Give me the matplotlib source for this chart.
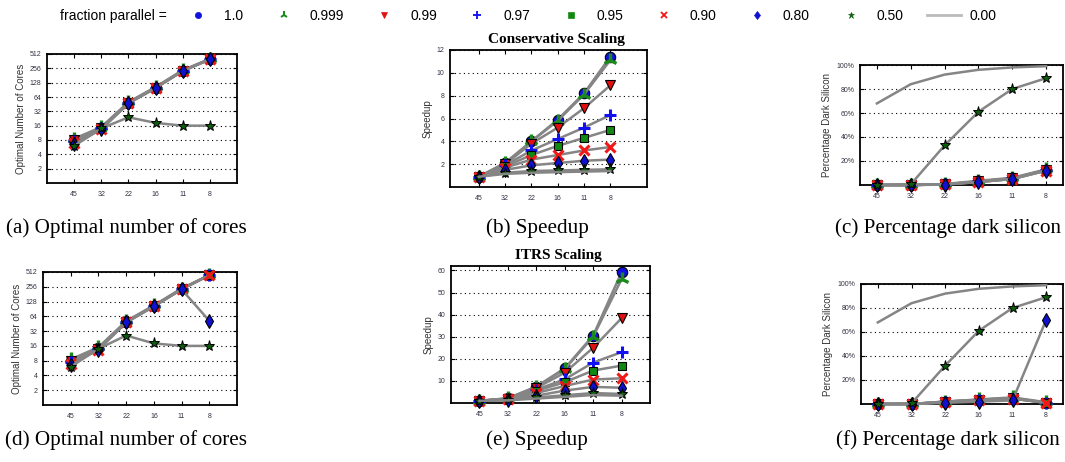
import matplotlib
matplotlib.use('Agg')
import matplotlib.pyplot as plt
from matplotlib.lines import Line2D
from matplotlib.ticker import FixedLocator, FuncFormatter

nodes = ['45', '32', '22', '16', '11', '8']
fractions = ['1.0', '0.999', '0.99', '0.97', '0.95', '0.90', '0.80', '0.50', '0.00']

# one row per fraction parallel, None = series not drawn in that panel
cons_cores = [
    [8, 14.5, 49, 101, 230, 400],
    [8.5, 15, 50, 104, 234, 405],
    [8, 14, 48, 100, 228, 398],
    [7.5, 14, 48, 100, 228, 398],
    [7, 14, 48, 100, 226, 396],
    [7, 13.5, 47, 99, 226, 396],
    [6.5, 13.5, 47, 99, 225, 395],
    [6, 14, 24, 18.3, 16, 16],
    None,
]
itrs_cores = [
    [8, 14.5, 50, 105, 232, 440],
    [8.5, 15, 51, 107, 236, 445],
    [8, 14, 49, 104, 230, 440],
    [7.5, 14, 49, 104, 230, 440],
    [7, 14, 48, 103, 228, 440],
    [7, 13.5, 48, 102, 228, 440],
    [6.5, 13.5, 48, 102, 226, 52],
    [6, 14, 26, 18, 16, 16],
    None,
]
cons_speedup = [
    [0.9, 2.1, 4.0, 5.9, 8.2, 11.4],
    [0.9, 2.1, 4.0, 5.8, 8.1, 11.1],
    [0.9, 2.0, 3.8, 5.2, 6.9, 8.9],
    [0.9, 1.9, 3.2, 4.2, 5.2, 6.3],
    [0.9, 1.8, 2.8, 3.6, 4.3, 5.0],
    [0.9, 1.7, 2.4, 2.8, 3.2, 3.5],
    [0.9, 1.5, 1.9, 2.1, 2.3, 2.4],
    [0.9, 1.25, 1.4, 1.45, 1.5, 1.55],
    [0.9, 1.15, 1.25, 1.3, 1.35, 1.4],
]
itrs_speedup = [
    [1, 2.1, 7.4, 15.7, 30.5, 59.2],
    [1, 2.1, 7.3, 15.3, 30, 56],
    [1, 2.0, 6.8, 13.7, 25, 38.4],
    [1, 1.9, 6.0, 10.7, 18.3, 23],
    [1, 1.8, 5.5, 9.4, 14.7, 16.9],
    [1, 1.7, 4.5, 7.7, 10.6, 11.2],
    [1, 1.5, 3.3, 5.6, 7.3, 6.9],
    [1, 1.3, 2.5, 3.5, 4.5, 4.1],
    [1, 1.2, 2.0, 2.8, 3.6, 3.3],
]
cons_dark = [
    [0, 0, 0.5, 3, 5.5, 12.5],
    [0, 0, 0.8, 3.5, 6, 13],
    [0, 0, 0.5, 3, 5.5, 12.5],
    [0, 0, 0.5, 3, 5.5, 12.5],
    [0, 0, 0.5, 2.5, 5, 12],
    [0, 0, 0.5, 2.5, 5, 12],
    [0, 0, 0.3, 2.5, 5, 12],
    [0, 0.5, 33, 61, 80, 89],
    [68, 84, 92, 96, 98, 99],
]
itrs_dark = [
    [0, 0, 2, 3.5, 5, 1],
    [0, 0, 2, 3.8, 5.5, 1.5],
    [0, 0, 2, 3.5, 5, 1],
    [0, 0, 1.8, 3.2, 4.5, 1],
    [0, 0, 1.5, 3, 4.5, 1],
    [0, 0, 1.5, 3, 4.5, 1],
    [0, 0, 1, 2, 3, 70],
    [0, 0.5, 32, 61, 80, 89],
    [68, 84, 92, 96, 98, 99],
]

cores_ticks = [2, 4, 8, 16, 32, 64, 128, 256, 512]
cons_speed_ticks = [2, 4, 6, 8, 10, 12]
itrs_speed_ticks = [10, 20, 30, 40, 50, 60]
dark_ticks = [20, 40, 60, 80, 100]

# marker styles per fraction (marker, face colour, edge colour, size, edge width)
styles = [
    ('o', '#1010e0', 'black', 7.5, 0.8),
    ('2', '#1a8a1a', '#1a8a1a', 10, 2.4),
    ('v', '#e01010', 'black', 7, 0.8),
    ('+', '#1010f0', '#1010f0', 9, 2.2),
    ('s', '#118811', 'black', 6.3, 0.8),
    ('x', '#f01818', '#f01818', 7.5, 2.2),
    ('d', '#1010d0', 'black', 7.5, 0.8),
    ('*', '#0c5c0c', 'black', 8, 0.7),
    ('', '#999999', '#999999', 0, 0),
]

W, H = 1065, 462
fig = plt.figure(figsize=(W / 100, H / 100), dpi=100)

sans = ['Liberation Sans', 'DejaVu Sans']
serif = ['Liberation Serif', 'DejaVu Serif']


def box(l, r, t, b):
    return [l / W, 1 - b / H, (r - l) / W, (b - t) / H]


def draw_panel(rect, data, ylim, yticks, xlim, ylabel, log=False, pct=False, title=None):
    ax = fig.add_axes(box(*rect))
    xs = list(range(1, len(nodes) + 1))
    for row, (m, fc, ec, ms, mew) in zip(data, styles):
        if row is None:
            continue
        ax.plot(xs, row, color='#858585', lw=1.8, marker=m if m else None,
                markerfacecolor=fc, markeredgecolor=ec, markersize=ms,
                markeredgewidth=mew, clip_on=False, zorder=3)
    if log:
        ax.set_yscale('log', base=2)
        ax.yaxis.set_minor_locator(FixedLocator([]))
    ax.set_ylim(*ylim)
    ax.set_xlim(*xlim)
    ax.yaxis.set_major_locator(FixedLocator(yticks))
    if pct:
        ax.yaxis.set_major_formatter(FuncFormatter(lambda v, p: '%d%%' % v))
    else:
        ax.yaxis.set_major_formatter(FuncFormatter(lambda v, p: '%g' % v))
    ax.set_xticks(xs)
    ax.set_xticklabels(nodes)
    ax.grid(axis='y', linestyle=(0, (1, 3)), color='black', lw=0.8)
    ax.set_axisbelow(True)
    ax.tick_params(direction='in', length=3, width=0.8, top=True, right=True,
                   labelsize=5, labelcolor='#333344')
    ax.tick_params(axis='x', pad=6)
    ax.tick_params(axis='y', pad=4)
    for lab in ax.get_xticklabels() + ax.get_yticklabels():
        lab.set_family(sans)
    for s in ax.spines.values():
        s.set_linewidth(1.3)
    ax.set_ylabel(ylabel, fontsize=7, family=sans, color='#333333', labelpad=3)
    if title:
        ax.set_title(title, fontsize=11, fontweight='bold', family=serif, pad=5, x=0.54)
    return ax


draw_panel((47, 237, 54, 183), cons_cores, (1, 512), cores_ticks, (0, 7),
           'Optimal Number of Cores', log=True)
draw_panel((450, 647, 50, 187), cons_speedup, (0, 12), cons_speed_ticks, (-0.1, 7.4),
           'Speedup', title='Conservative Scaling')
draw_panel((860, 1063, 65, 185), cons_dark, (0, 100), dark_ticks, (0.5, 6.5),
           'Percentage Dark Silicon', pct=True)
draw_panel((43, 237, 272, 405), itrs_cores, (1, 512), cores_ticks, (0, 7),
           'Optimal Number of Cores', log=True)
draw_panel((451, 650, 266, 403), itrs_speedup, (0, 62), itrs_speed_ticks, (0, 7),
           'Speedup', title='ITRS Scaling')
draw_panel((861, 1063, 284, 404), itrs_dark, (0, 100), dark_ticks, (0.5, 6.5),
           'Percentage Dark Silicon', pct=True)

captions = [
    ('(a) Optimal number of cores', 126, 228),
    ('(b) Speedup', 537, 228),
    ('(c) Percentage dark silicon', 948, 228),
    ('(d) Optimal number of cores', 126, 440),
    ('(e) Speedup', 537, 440),
    ('(f) Percentage dark silicon', 948, 440),
]
for txt, cx, cy in captions:
    fig.text(cx / W, 1 - cy / H, txt, ha='center', va='center', fontsize=15.2,
             family=serif)

# legend along the top
handles = []
for m, fc, ec, ms, mew in styles:
    if m:
        handles.append(Line2D([], [], linestyle='none', marker=m, markerfacecolor=fc,
                              markeredgecolor=fc, markersize=ms * 0.6,
                              markeredgewidth=mew * 0.6))
    else:
        handles.append(Line2D([], [], color='#bbbbbb', lw=2))
fig.text(60 / W, 1 - 16 / H, 'fraction parallel =', fontsize=10, family=sans,
         va='center', ha='left')
fig.legend(handles, fractions, loc='center left', bbox_to_anchor=(171 / W, 1 - 16 / H),
           ncol=9, frameon=False, handlelength=2.5, handletextpad=0.6,
           columnspacing=1.68, borderpad=0.2, prop={'family': sans, 'size': 10})

fig.savefig('out.png', dpi=100)
